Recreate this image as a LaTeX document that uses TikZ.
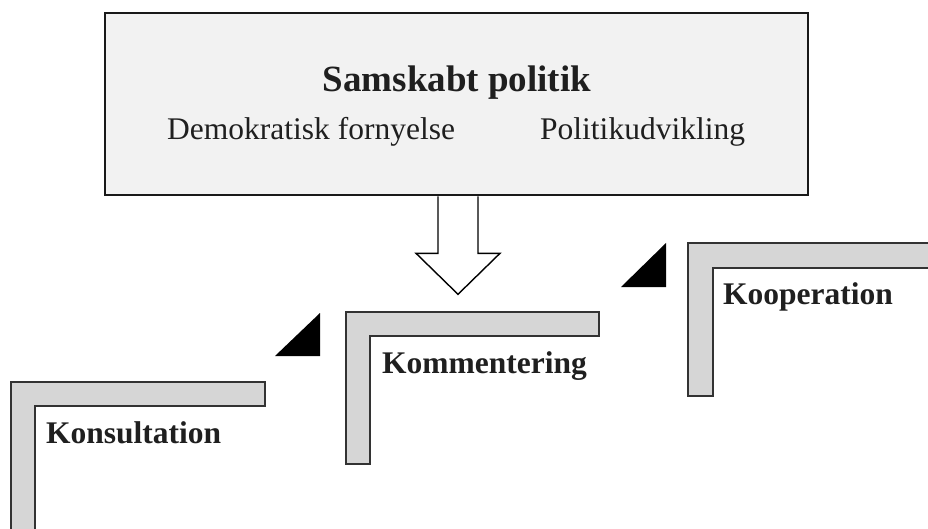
\documentclass[tikz,border=0pt]{standalone}
\usepackage{fontspec}
\setmainfont{Liberation Serif}
\begin{document}
\begin{tikzpicture}[x=1pt,y=-1pt,
  inkc/.style={text=black!88},
  titlebox/.style={draw=black!90,line width=2.6pt,fill=black!5,
    minimum width=703pt,minimum height=182pt,inner sep=0pt},
  blockarrow/.style={draw=black,line width=1.4pt,fill=white,line join=miter},
  stair/.style={draw=black!80,line width=1.1pt},
  stairfill/.style={fill=black!16},
  wedge/.style={fill=black},
  steplabel/.style={inkc,font=\bfseries\fontsize{31.5}{36}\selectfont,anchor=base west,inner sep=0pt},
  sublabel/.style={inkc,font=\fontsize{31.5}{36}\selectfont,anchor=base west,inner sep=0pt}]
\useasboundingbox (0,0) rectangle (928,529);

% heading box
\node[titlebox] (policy) at (456.5,104) {};
\node[inkc,font=\bfseries\fontsize{37}{42}\selectfont,anchor=base,inner sep=0pt] (title) at (457,92) {Samskabt politik};
\node[sublabel] (demo) at (167,140) {Demokratisk fornyelse};
\node[sublabel] (polu) at (540,140) {Politikudvikling};

% downward block arrow below the box
\draw[blockarrow] ([xshift=-18.5pt]policy.south) -- ++(0,57) -- ++(-22,0)
  -- ++(42,41) -- ++(42,-41) -- ++(-22,0) -- ([xshift=21.5pt]policy.south);

% step 1
\fill[stairfill] (11,530) -- (11,382) -- (265,382) -- (265,406) -- (35,406) -- (35,530) -- cycle;
\draw[stair] (11,530) -- (11,382) -- (265,382) -- (265,406) -- (35,406) -- (35,530);
\node[steplabel] (konsult) at (46,443) {Konsultation};

% step 2
\fill[wedge] (275,356) -- (320,356) -- (320,313) -- cycle;
\draw[stair,stairfill] (346,464) -- (346,312) -- (599,312) -- (599,336) -- (370,336) -- (370,464) -- cycle;
\node[steplabel] (komment) at (382,373) {Kommentering};

% step 3
\fill[wedge] (621,287) -- (666,287) -- (666,243) -- cycle;
\fill[stairfill] (929,243) -- (688,243) -- (688,396) -- (713,396) -- (713,268) -- (929,268) -- cycle;
\draw[stair] (929,243) -- (688,243) -- (688,396) -- (713,396) -- (713,268) -- (929,268);
\node[steplabel] (koop) at (723,304) {Kooperation};
\end{tikzpicture}
\end{document}
